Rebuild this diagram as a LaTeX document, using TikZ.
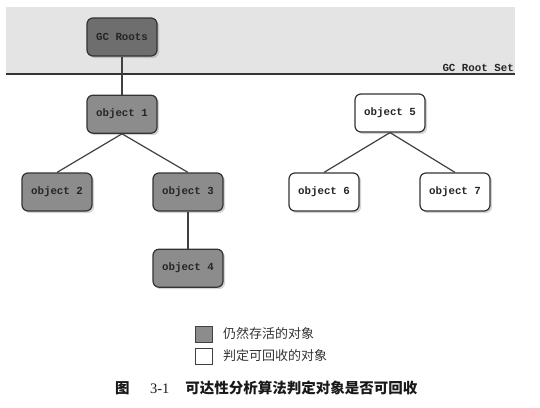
\documentclass[tikz,border=0pt]{standalone}
\usepackage{fontspec}
\setmonofont{Liberation Mono}
\newfontfamily\cjk{Noto Sans CJK SC}
\newfontfamily\capnum{Liberation Serif}
\usetikzlibrary{positioning,shadows}

\definecolor{rootgray}{HTML}{6E6E6E}
\definecolor{livegray}{HTML}{8C8C8C}
\definecolor{bandgray}{HTML}{E4E4E4}

\tikzset{
  obj/.style={draw=black!80, line width=1.2pt, rounded corners=6pt,
    minimum width=70pt, minimum height=38pt, text=black!85,
    font=\ttfamily\bfseries\fontsize{10.8}{12}\selectfont,
    drop shadow={shadow xshift=2pt, shadow yshift=-2pt, opacity=0.35}},
  live/.style={obj, fill=livegray},
  dead/.style={obj, fill=white},
  ref/.style={line width=1.2pt, draw=black!75},
  keybox/.style={draw=black!75, line width=1pt, minimum width=17pt, minimum height=16pt, inner sep=0pt},
  keytext/.style={font=\cjk\fontsize{13}{15}\selectfont, text=black!80, inner sep=0pt},
}

\begin{document}
\begin{tikzpicture}[x=1pt, y=-1pt]
  \useasboundingbox (0,0) rectangle (540,407);
  % root set band
  \fill[bandgray] (6,7) rectangle (515,74);
  \draw[line width=1.5pt, black!80] (6,74) -- (515,74);
  \node[anchor=south east, inner sep=1pt, text=black!85,
    font=\ttfamily\bfseries\fontsize{10.8}{12}\selectfont] (setlabel) at (515,73) {GC Root Set};

  % reachable objects
  \node[obj, fill=rootgray] (roots) at (122,37) {GC Roots};
  \node[live, below=38pt of roots] (o1) {object 1};
  \node[live] (o2) at (57,192) {object 2};
  \node[live] (o3) at (188,192) {object 3};
  \node[live, below=37pt of o3] (o4) {object 4};

  % unreachable objects
  \node[dead] (o5) at (390,113) {object 5};
  \node[dead] (o6) at (324,192) {object 6};
  \node[dead] (o7) at (455,192) {object 7};

  \draw[ref] (roots) -- (o1);
  \draw[ref] (o1.south) -- (o2.north);
  \draw[ref] (o1.south) -- (o3.north);
  \draw[ref] (o3) -- (o4);
  \draw[ref] (o5.south) -- (o6.north);
  \draw[ref] (o5.south) -- (o7.north);

  % legend
  \node[keybox, fill=livegray] (keylive) at (203.5,334) {};
  \node[keybox, fill=white] (keydead) at (203.5,356) {};
  \node[keytext, anchor=west] (livetext) at (223,334) {仍然存活的对象};
  \node[keytext, anchor=west] (deadtext) at (223,356) {判定可回收的对象};

  % caption
  \node[font=\cjk\bfseries\fontsize{14.5}{16}\selectfont, text=black!90, anchor=west, inner sep=0pt] (caption) at (115,388)
    {图\hspace{1.4em}{\capnum\mdseries 3-1}\hspace{1.1em}可达性分析算法判定对象是否可回收};
\end{tikzpicture}
\end{document}
